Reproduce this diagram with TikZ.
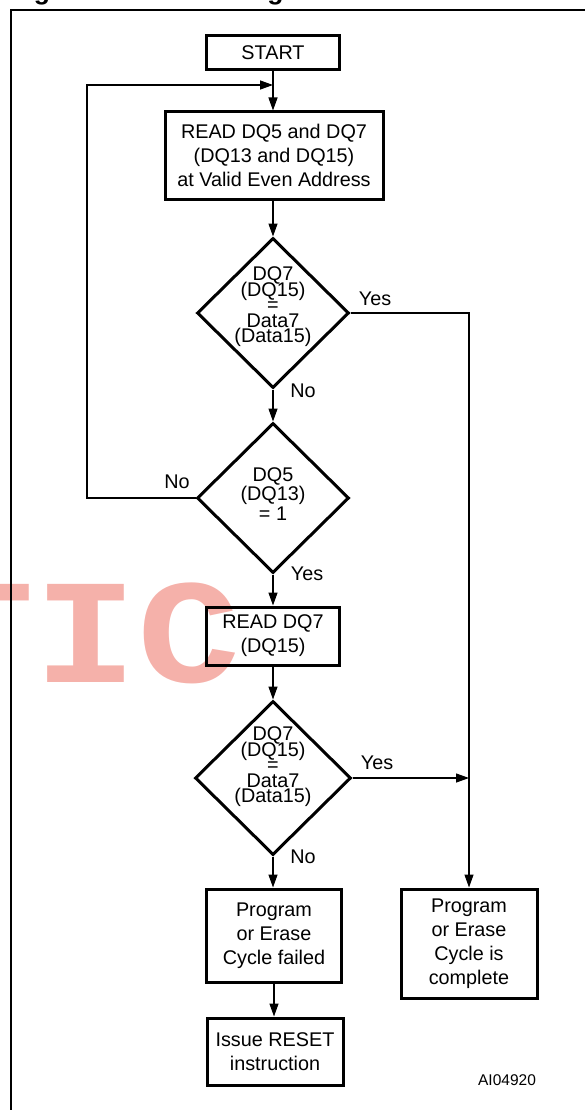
\documentclass[tikz,border=0pt]{standalone}
\usepackage{fontspec}
\setmainfont{Liberation Sans}
\newfontfamily\wmfont{Liberation Mono}
\usetikzlibrary{shapes.geometric,arrows.meta,calc}
\definecolor{wmpink}{RGB}{245,177,170}
\begin{document}
\begin{tikzpicture}[x=1pt,y=-1pt,
  box/.style={draw, line width=3pt, align=center, inner sep=0pt, font={\fontsize{19.8}{24}\selectfont}},
  dia/.style={draw, diamond, line width=3pt, inner sep=0pt},
  dtext/.style={align=center, inner sep=0pt, font={\fontsize{19.8}{15.5}\selectfont\lineskiplimit=-100pt}},
  lbl/.style={inner sep=0pt, font={\fontsize{19.8}{24}\selectfont}},
  conn/.style={line width=1.3pt},
  arr/.style={line width=1.3pt, -{Triangle[length=13pt,width=9pt]}}]
\useasboundingbox (0,0) rectangle (584,1110);
% watermark
\node[anchor=base, inner sep=0pt, text=wmpink, font={\wmfont\bfseries\fontsize{149}{149}\selectfont}] (wm) at (86,682) {\scalebox{1.15}[1]{TIC}};
% cut-off title and frame
\node[anchor=base west, inner sep=0pt, font={\bfseries\fontsize{26.5}{30}\selectfont}] (title) at (10,-0.3) {Figure 9. Data Polling Flowchart};
\draw[line width=2pt] (11,1120) -- (11,10) -- (600,10);
% boxes
\node[box, minimum width=133pt, minimum height=34pt] (start) at (273,53) {START};
\node[box, minimum width=218pt, minimum height=87pt] (read) at (274,155.5) {READ DQ5 and DQ7\\(DQ13 and DQ15)\\at Valid Even Address};
\node[dia, minimum width=152pt, minimum height=150pt] (d1) at (273,313) {};
\node[dtext] (t1) at (273,307) {DQ7\\(DQ15)\\=\\Data7\\(Data15)};
\node[dia, minimum width=152pt, minimum height=150pt] (d2) at (273,498) {};
\node[dtext, font={\fontsize{19.8}{19.5}\selectfont\lineskiplimit=-100pt}] (t2) at (273,494) {DQ5\\(DQ13)\\= 1};
\node[box, minimum width=133pt, minimum height=58pt] (r7) at (273,636) {READ DQ7\\(DQ15)};
\node[dia, minimum width=156pt, minimum height=154pt] (d3) at (273,778) {};
\node[dtext] (t3) at (273,767) {DQ7\\(DQ15)\\=\\Data7\\(Data15)};
\node[box, minimum width=135pt, minimum height=93pt] (failed) at (274,935.5) {Program\\or Erase\\Cycle failed};
\node[box, minimum width=136pt, minimum height=109pt] (complete) at (469,943.5) {Program\\or Erase\\Cycle is\\complete};
\node[box, minimum width=136pt, minimum height=67pt] (reset) at (275,1051.5) {Issue RESET\\instruction};
% labels
\node[lbl] (y1) at (375,299) {Yes};
\node[lbl] (n1) at (303,391) {No};
\node[lbl] (n2) at (177,482) {No};
\node[lbl] (y2) at (307,574) {Yes};
\node[lbl] (y3) at (377,763) {Yes};
\node[lbl] (n3) at (303,857) {No};
\node[inner sep=0pt, font={\fontsize{15.5}{18}\selectfont}] (code) at (507,1080) {AI04920};
% connectors
\coordinate (join) at (273,85);
\coordinate (lp) at (87,85);
\draw[arr] (start.south) -- (start.south |- read.north);
\draw[arr] (d2.west) -| (lp) -- (join);
\draw[arr] (read.south -| d1.north) -- (d1.north);
\draw[arr] (d1.south) -- (d2.north);
\draw[arr] (d2.south) -- (r7.north);
\draw[arr] (r7.south) -- (d3.north);
\draw[arr] (d3.south) -- (d3.south |- failed.north);
\draw[arr] (failed.south) -- (failed.south |- reset.north);
\draw[arr] (d1.east) -| (complete.north);
\draw[arr] (d3.east) -- (d3.east -| complete.north);
\end{tikzpicture}
\end{document}
